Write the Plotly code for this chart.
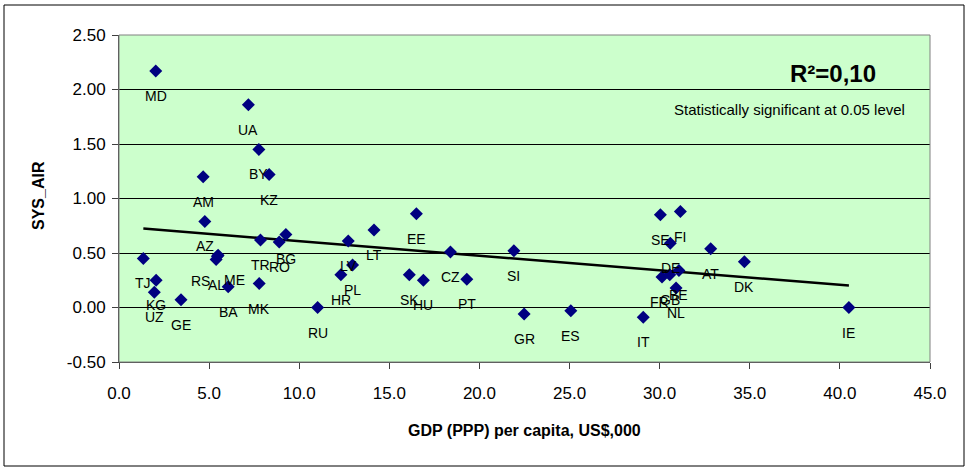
import numpy as np
import plotly.graph_objects as go

countries = ["MD", "UA", "BY", "KZ", "AM", "AZ", "TJ", "KG", "UZ", "GE",
             "RS", "AL", "ME", "BA", "MK", "TR", "RO", "BG", "RU", "HR",
             "LV", "PL", "LT", "EE", "SK", "HU", "CZ", "PT", "SI", "GR",
             "ES", "IT", "SE", "FI", "DE", "AT", "DK", "FR", "GB", "BE",
             "NL", "IE"]
gdp = [2.04, 7.18, 7.76, 8.33, 4.67, 4.76, 1.35, 2.06, 1.96, 3.44,
       5.46, 5.39, 5.50, 6.06, 7.78, 7.85, 8.89, 9.26, 11.02, 12.31,
       12.72, 12.96, 14.15, 16.50, 16.11, 16.89, 18.39, 19.30, 21.91, 22.48,
       25.07, 29.09, 30.04, 31.15, 30.59, 32.83, 34.70, 30.13, 30.56, 31.07,
       30.91, 40.50]
sys_air = [2.17, 1.86, 1.45, 1.22, 1.20, 0.79, 0.45, 0.25, 0.14, 0.07,
           0.47, 0.44, 0.48, 0.19, 0.22, 0.62, 0.60, 0.67, 0.00, 0.30,
           0.61, 0.39, 0.71, 0.86, 0.30, 0.25, 0.51, 0.26, 0.52, -0.06,
           -0.03, -0.09, 0.85, 0.88, 0.59, 0.54, 0.42, 0.28, 0.30, 0.34,
           0.18, 0.00]
x_ticks = [0, 5, 10, 15, 20, 25, 30, 35, 40, 45]
y_ticks = [-0.5, 0.0, 0.5, 1.0, 1.5, 2.0, 2.5]
x_tick_labels = ["0.0", "5.0", "10.0", "15.0", "20.0", "25.0", "30.0", "35.0", "40.0", "45.0"]
y_tick_labels = ["-0.50", "0.00", "0.50", "1.00", "1.50", "2.00", "2.50"]
r2_text = "R²=0,10"
sig_text = "Statistically significant at 0.05 level"

# label horizontal nudges (style only) for overlapping labels
label_xshift = {"RS": -17, "ME": 16, "FR": -3}

FONT = "Arial, Liberation Sans, sans-serif"

# linear trend line
slope, intercept = np.polyfit(gdp, sys_air, 1)
tx = np.array([min(gdp), max(gdp)])
ty = slope * tx + intercept

fig = go.Figure()
fig.add_trace(go.Scatter(x=tx, y=ty, mode="lines",
                         line=dict(color="black", width=2.5),
                         hoverinfo="skip", showlegend=False))
fig.add_trace(go.Scatter(x=gdp, y=sys_air, mode="markers",
                         marker=dict(symbol="diamond", size=10, color="#000080",
                                     line=dict(width=0)),
                         text=countries, showlegend=False))

annotations = []
for c, xv, yv in zip(countries, gdp, sys_air):
    annotations.append(dict(x=xv, y=yv, xref="x", yref="y", text=c,
                            showarrow=False, yshift=-25,
                            xshift=label_xshift.get(c, 0),
                            font=dict(family=FONT, size=14, color="black")))

L, R, T, B = 119, 38, 35, 106
W, H = 968, 468
pw, ph = W - L - R, H - T - B

def px2paper_x(px):
    return (px - L) / pw

def py2paper_y(py):
    return (H - B - py) / ph

annotations += [
    dict(x=px2paper_x(878), y=py2paper_y(73), xref="paper", yref="paper",
         text="<b>" + r2_text + "</b>", showarrow=False, xanchor="right",
         yanchor="middle", font=dict(family=FONT, size=24, color="black")),
    dict(x=px2paper_x(907), y=py2paper_y(110), xref="paper", yref="paper",
         text=sig_text, showarrow=False, xanchor="right", yanchor="middle",
         font=dict(family=FONT, size=15, color="black")),
    dict(x=0.5, y=py2paper_y(430), xref="paper", yref="paper",
         text="<b>GDP (PPP) per capita, US$,000</b>", showarrow=False,
         xanchor="center", yanchor="middle",
         font=dict(family=FONT, size=16, color="black")),
    dict(x=px2paper_x(38), y=py2paper_y(196), xref="paper", yref="paper",
         text="<b>SYS_AIR</b>", showarrow=False, textangle=-90,
         xanchor="center", yanchor="middle",
         font=dict(family=FONT, size=16, color="black")),
]

shapes = [
    dict(type="rect", xref="paper", yref="paper", x0=0, x1=1, y0=0, y1=1,
         line=dict(color="#808080", width=1), layer="above"),
    dict(type="rect", xref="paper", yref="paper",
         x0=px2paper_x(4), x1=px2paper_x(964), y0=py2paper_y(466), y1=py2paper_y(5),
         line=dict(color="black", width=1)),
]

fig.update_layout(
    width=W, height=H,
    margin=dict(l=L, r=R, t=T, b=B, autoexpand=False),
    paper_bgcolor="white", plot_bgcolor="#CCFFCC",
    font=dict(family=FONT, size=17, color="black"),
    showlegend=False,
    annotations=annotations,
    shapes=shapes,
    xaxis=dict(range=[0, 45], tickvals=x_ticks, ticktext=x_tick_labels,
               showgrid=False, zeroline=False, showline=True,
               linecolor="#404040", linewidth=1, ticks="outside", ticklen=6,
               tickcolor="#404040", ticklabelstandoff=10,
               tickfont=dict(family=FONT, size=17, color="black")),
    yaxis=dict(range=[-0.5, 2.5], tickvals=y_ticks, ticktext=y_tick_labels,
               showgrid=True, gridcolor="black", gridwidth=1, zeroline=False,
               showline=True, linecolor="#404040", linewidth=1,
               ticks="outside", ticklen=6, tickcolor="#404040",
               ticklabelstandoff=3,
               tickfont=dict(family=FONT, size=17, color="black")),
)

fig.write_html("out.html",
               config={"displayModeBar": False},
               post_script="document.body.style.margin='0';"
                           "document.body.style.overflow='hidden';")
